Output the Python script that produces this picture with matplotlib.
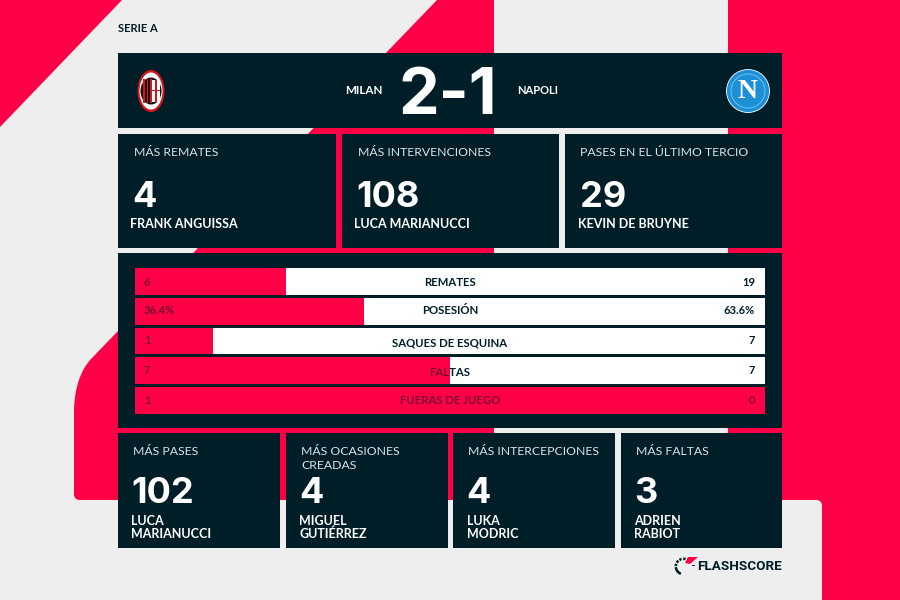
import matplotlib
matplotlib.use("Agg")
import matplotlib.pyplot as plt
from matplotlib.patches import Rectangle, PathPatch, Ellipse, Circle, Wedge, Polygon
from matplotlib.path import Path

# ---------- data ----------
league = "SERIE A"
home_team = "MILAN"
away_team = "NAPOLI"
score = "2-1"

top_titles = ["MÁS REMATES", "MÁS INTERVENCIONES", "PASES EN EL ÚLTIMO TERCIO"]
top_values = ["4", "108", "29"]
top_players = ["FRANK ANGUISSA", "LUCA MARIANUCCI", "KEVIN DE BRUYNE"]

stat_names = ["REMATES", "POSESIÓN", "SAQUES DE ESQUINA", "FALTAS", "FUERAS DE JUEGO"]
home_stats = [6, 36.4, 1, 7, 1]
away_stats = [19, 63.6, 7, 7, 0]
home_labels = ["6", "36.4%", "1", "7", "1"]
away_labels = ["19", "63.6%", "7", "7", "0"]

bottom_titles = ["MÁS PASES", "MÁS OCASIONES\nCREADAS", "MÁS INTERCEPCIONES", "MÁS FALTAS"]
bottom_values = ["102", "4", "4", "3"]
bottom_players = ["LUCA\nMARIANUCCI", "MIGUEL\nGUTIÉRREZ", "LUKA\nMODRIC", "ADRIEN\nRABIOT"]

# ---------- style ----------
RED = "#FF0046"
GREY = "#EEEEEE"
DARK = "#001E28"
TITLE = "#DDE3E6"
WINE = "#7A0A30"
SANS = "Lato"
NUM = "Inter"

fig = plt.figure(figsize=(9, 6), dpi=100, facecolor=GREY)
ax = fig.add_axes([0, 0, 1, 1])
ax.set_xlim(0, 900)
ax.set_ylim(600, 0)
ax.axis("off")

# ---------- background shapes ----------
ax.add_patch(Polygon([(0, 0), (122, 0), (0, 127)], fc=RED, ec="none"))
C3, C4 = Path.CURVE3, Path.CURVE4
L = Path.LINETO
mid = Path(
    [(437, 0), (494, 0), (494, 500), (80, 500), (74, 500), (74, 494), (74, 412),
     (74, 390), (80, 370), (92, 358), (437, 0)],
    [Path.MOVETO, L, L, L, C3, C3, L, C4, C4, C4, Path.CLOSEPOLY],
)
ax.add_patch(PathPatch(mid, fc=RED, ec="none"))
right = Path(
    [(728, 0), (900, 0), (900, 600), (822, 600), (822, 506), (822, 500), (816, 500), (728, 500), (728, 0)],
    [Path.MOVETO, L, L, L, L, C3, C3, L, Path.CLOSEPOLY],
)
ax.add_patch(PathPatch(right, fc=RED, ec="none"))


def card(x0, y0, x1, y1):
    ax.add_patch(Rectangle((x0, y0), x1 - x0, y1 - y0, fc=DARK, ec="none", zorder=2))


def put(x, y, s, size, color="white", weight="normal", ha="left", family=SANS, **kw):
    return ax.text(x, y, s, fontsize=size, color=color, fontweight=weight, ha=ha,
                   va="baseline", family=family, zorder=5, **kw)


ax.text(118, 31.5, league, fontsize=8, fontweight="bold", color=DARK, family=SANS, va="baseline")

# ---------- header ----------
card(118, 53, 782, 128)
put(382, 94.5, home_team, 8.4, weight="bold", ha="right")
put(517, 94.5, away_team, 8.0, weight="bold")
put(448, 114, score, 46.5, weight="bold", ha="center", family=NUM)

# Milan crest
ax.add_patch(Ellipse((151, 91), 27, 42, fc="#D7141A", ec="none", zorder=3))
ax.add_patch(Ellipse((151, 91), 23, 37, fc="white", ec="none", zorder=3))
ax.add_patch(Ellipse((151, 91), 21, 27, fc="#111111", ec="none", zorder=3))
for dx in (-8, -4.5, -1):
    ax.add_patch(Rectangle((151 + dx, 79), 1.8, 24, fc="#D7141A", ec="none", zorder=4))
ax.add_patch(Rectangle((151.8, 80), 8.4, 22, fc="white", ec="none", zorder=4))
ax.add_patch(Rectangle((155, 80), 1.6, 22, fc="#D7141A", ec="none", zorder=4))
ax.add_patch(Rectangle((151.8, 89.5), 8.4, 1.6, fc="#D7141A", ec="none", zorder=4))

# Napoli crest
ax.add_patch(Circle((748, 91), 21.5, fc="#1D8FD6", ec="white", lw=0.6, zorder=3))
ax.add_patch(Circle((748, 91), 17, fc="none", ec="#63BDF0", lw=0.8, zorder=4))
ax.text(748, 92, "N", fontsize=20, fontweight="bold", color="white", family="Liberation Serif",
        ha="center", va="center", zorder=5)

# ---------- three upper cards ----------
top_x = [(118, 336), (342, 559), (565, 782)]
for (x0, x1), title, value, player in zip(top_x, top_titles, top_values, top_players):
    card(x0, 133.5, x1, 248)
    put(x0 + 15.5, 156.5, title, 8.8, color=TITLE)
    put(x0 + 14.5, 207, value, 26, weight="bold", family=NUM)
    put(x0 + 12.5, 228, player, 9.0, weight="bold")

# ---------- stats panel ----------
card(118, 252.5, 782, 428)
BX0, BX1, BY0, BY1 = 134.5, 765, 268, 414
BAR_H = 0.905
bar_ax = fig.add_axes([BX0 / 900, 1 - BY1 / 600, (BX1 - BX0) / 900, (BY1 - BY0) / 600])
bar_ax.set_xlim(0, 1)
n = len(stat_names)
bar_ax.set_ylim(n - 1 + BAR_H / 2, -BAR_H / 2)
bar_ax.axis("off")
shares = [h / (h + a) for h, a in zip(home_stats, away_stats)]
rest = [1 - s for s in shares]
ypos = list(range(n))
white_bars = bar_ax.barh(ypos, rest, left=shares, height=BAR_H, color="white", linewidth=0)
red_bars = bar_ax.barh(ypos, shares, height=BAR_H, color=RED, linewidth=0)

label_y = [283, 311, 343.5, 372, 400]
value_y = [282, 311, 341, 370, 400]
renderer = fig.canvas.get_renderer()
for i in range(n):
    split_px = BX0 + shares[i] * (BX1 - BX0)
    wb, rb = white_bars[i], red_bars[i]
    kw = dict(fontsize=8.2, fontweight="bold", family=SANS, ha="center", va="center",
              transform=ax.transData)
    t = bar_ax.text(450, label_y[i], stat_names[i], color=DARK, **kw)
    ext = t.get_window_extent(renderer)
    if ext.x0 >= split_px:
        pass
    elif ext.x1 <= split_px:
        t.set_color(WINE)
    else:
        t.set_clip_path(wb)
        t.set_clip_on(True)
        t2 = bar_ax.text(450, label_y[i], stat_names[i], color=WINE, **kw)
        t2.set_clip_path(rb)
        t2.set_clip_on(True)
    vkw = dict(fontsize=8, fontweight="bold", family=SANS, va="center", transform=ax.transData)
    bar_ax.text(144, value_y[i], home_labels[i], color=WINE, ha="left", **vkw)
    bar_ax.text(755, value_y[i], away_labels[i], color=DARK if rest[i] > 0 else WINE, ha="right", **vkw)

# ---------- four lower cards ----------
bot_x = [(118, 280), (286, 447.5), (453, 614.5), (620.5, 782)]
for (x0, x1), title, value, player in zip(bot_x, bottom_titles, bottom_values, bottom_players):
    card(x0, 433, x1, 548)
    lines = title.split("\n")
    for k, line in enumerate(lines):
        put(x0 + 15, 455 + 14 * k, line, 8.8, color=TITLE)
    put(x0 + 13.5, 503, value, 26, weight="bold", family=NUM)
    for k, line in enumerate(player.split("\n")):
        put(x0 + 13.5, 525 + 12.8 * k, line, 9.0, weight="bold")

# ---------- brand ----------
for a0, a1 in [(110, 175), (183, 200), (210, 228), (238, 255), (268, 285), (298, 312)]:
    ax.add_patch(Wedge((683.5, 566.5), 9, a0, a1, width=2.6, fc=DARK, ec="none", zorder=3))
ax.add_patch(Polygon([(688, 557), (698, 557), (690, 564), (685, 563)], fc=RED, ec="none", zorder=3))
ax.add_patch(Rectangle((691.5, 564.8), 3.5, 1.4, fc=DARK, ec="none", zorder=3))
ax.text(782, 570.5, "FLASHSCORE", fontsize=9.7, fontweight="bold", color=DARK, family="Roboto",
        ha="right", va="baseline", zorder=5)

fig.savefig("out.png", dpi=100, facecolor=GREY)
